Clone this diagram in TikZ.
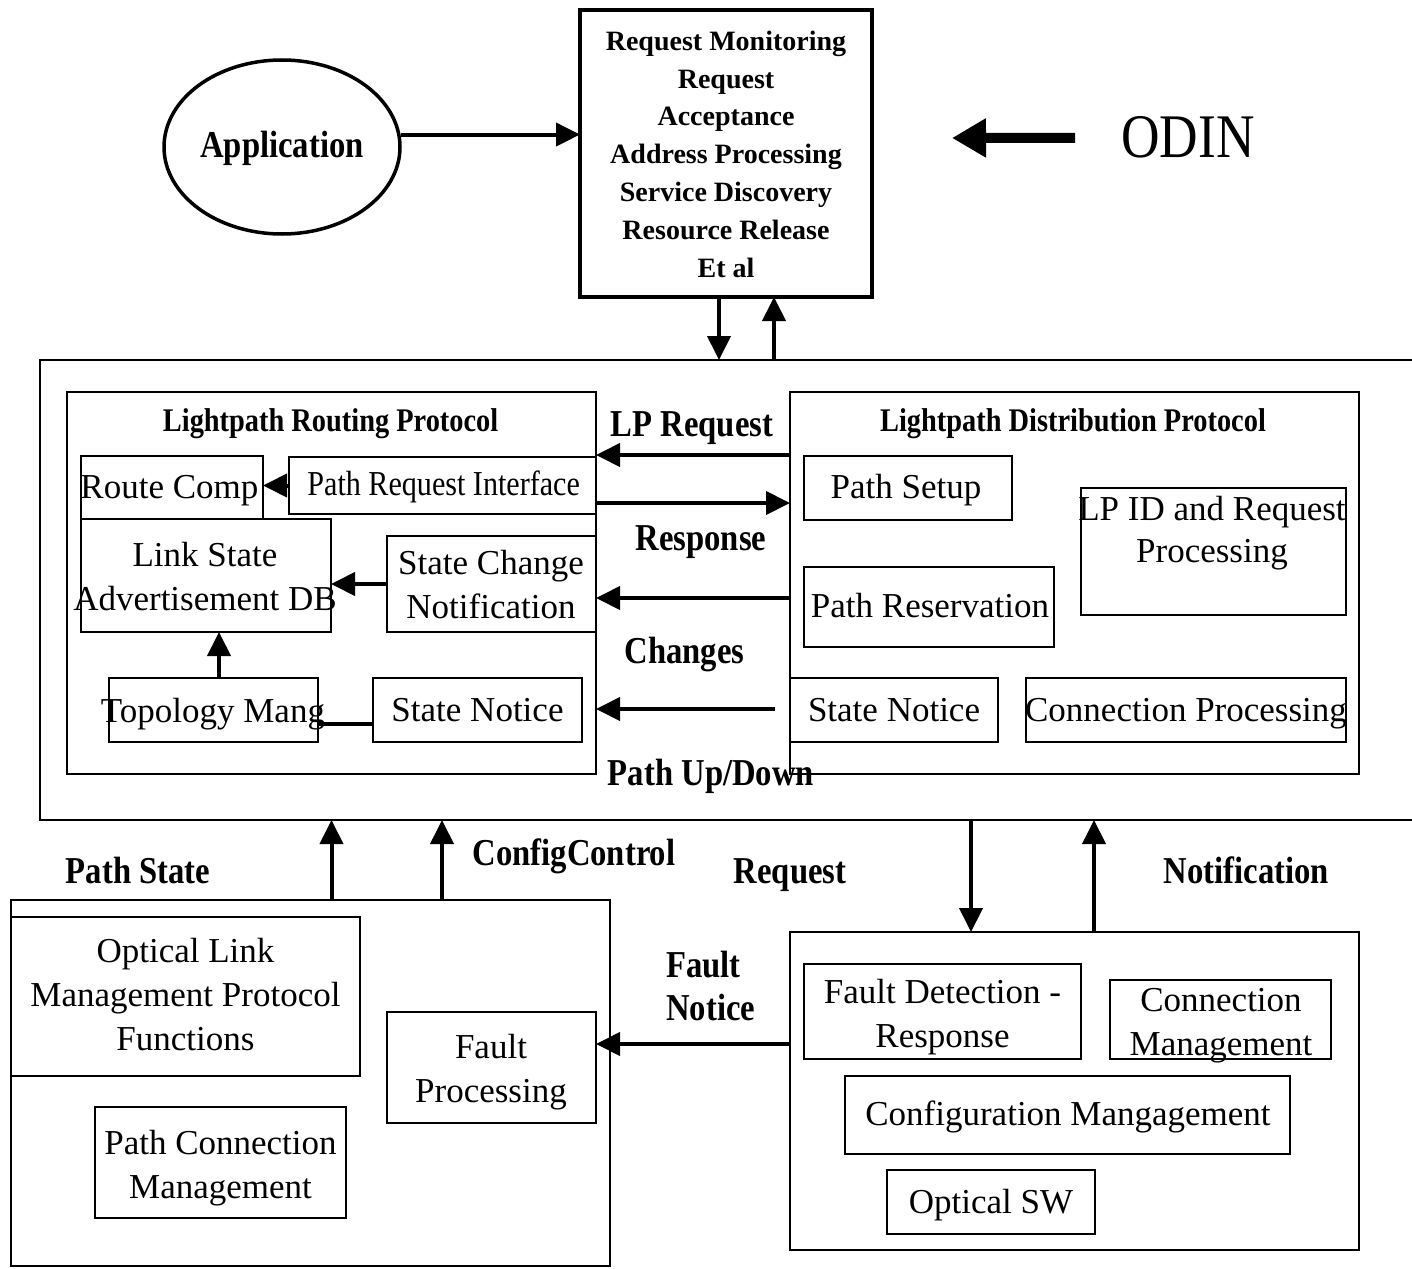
\documentclass[tikz,border=0pt]{standalone}
\usepackage{fontspec}
\setmainfont{Liberation Serif}
\newfontfamily\narrowserif{Liberation Serif}[FakeStretch=0.86]
\usetikzlibrary{arrows.meta,shapes.geometric,calc}

% rectangle node given by its two corners: [options]{name}{x1}{y1}{x2}{y2}
\newcommand\mkpanel[6][]{%
  \node[box,#1,minimum width={#5pt-#3pt},minimum height={#6pt-#4pt}]
    (#2) at ({(#3+#5)/2},{(#4+#6)/2}) {};}

\begin{document}
\begin{tikzpicture}[x=1pt,y=-1pt,
  box/.style={draw, line width=2.6pt, inner sep=0pt, outer sep=0pt},
  btxt/.style={font=\fontsize{35}{44}\selectfont, inner sep=0pt, anchor=base, align=center},
  ntxt/.style={font=\narrowserif\fontsize{35}{44}\selectfont, inner sep=0pt, anchor=base, align=center},
  lbl/.style={font=\narrowserif\bfseries\fontsize{38}{43}\selectfont, inner sep=0pt, anchor=base, align=center},
  ttl/.style={font=\narrowserif\bfseries\fontsize{33}{40}\selectfont, inner sep=0pt, anchor=base},
  arr/.style={line width=4pt, -{Triangle[length=24pt,width=23pt]}},
  bigarr/.style={line width=10pt, -{Triangle[length=34pt,width=37pt]}},
  link/.style={line width=4pt}]

\fill[white] (0,0) rectangle (1412,1268);
\useasboundingbox (0,0) rectangle (1412,1268);

% multi-line texts are placed by the baseline of their last line

% ---------- top: application and request handling ----------
\node[draw, ellipse, line width=3.5pt, minimum width=236pt, minimum height=174pt, inner sep=0pt]
  (app) at (282,147) {};
\node[lbl] (appt) at (282,158) {Application};

\mkpanel[line width=4.5pt]{rm}{580}{10}{872}{297}
\node[font=\bfseries\fontsize{28}{37.8}\selectfont, inner sep=0pt, anchor=base, align=center]
  (rmt) at (726,277) {Request Monitoring\\Request\\Acceptance\\Address Processing\\Service Discovery\\Resource Release\\Et al};

\node[font=\narrowserif\fontsize{62}{70}\selectfont, inner sep=0pt, anchor=base] (odin) at (1188,158) {ODIN};
\coordinate (odtip) at (952,138);
\draw[bigarr] ([xshift=-46pt]odin.west) -- (odtip);

\draw[arr] (app.6) -- (app.6 -| rm.west);

% ---------- middle: control plane ----------
\node[inner sep=0pt, outer sep=0pt, minimum width=1372pt, minimum height=460pt] (ctl) at (726,590) {};
\draw[line width=2.4pt] (ctl.north east) -- (ctl.north west) -- (ctl.south west) -- (ctl.south east);

\coordinate (rmd) at ($(rm.south)+(-7,0)$);
\coordinate (rmu) at ($(rm.south)+(48,0)$);
\draw[arr] (rmd) -- (rmd |- ctl.north);
\draw[arr] (rmu |- ctl.north) -- (rmu);

% routing protocol
\mkpanel{lrp}{67}{392}{596}{774}
\node[ttl] (lrpt) at (330.6,431) {Lightpath Routing Protocol};
\mkpanel{rc}{81}{456}{263}{519}
\node[btxt] (rct) at (169.4,498) {Route Comp};
\mkpanel{pri}{289}{457}{596}{514}
\node[ntxt] (prit) at (443.7,495) {Path Request Interface};
\mkpanel{lsa}{81}{519}{331}{632}
\node[btxt] (lsat) at (205,610) {Link State\\Advertisement DB};
\mkpanel{scn}{387}{536}{596}{632}
\node[btxt] (scnt) at (491,618) {State Change\\Notification};
\mkpanel{tm}{109}{678}{318}{742}
\node[btxt] (tmt) at (213,722) {Topology Mang};
\mkpanel{snl}{373}{678}{582}{742}
\node[btxt] (snlt) at (477.5,721) {State Notice};

\draw[arr] (pri.west) -- (pri.west -| rc.east);
\draw[arr] (scn.west) -- (scn.west -| lsa.east);
\coordinate (tmA) at ($(tm.north)+(5.5,0)$);
\draw[arr] (tmA) -- (tmA |- lsa.south);
\coordinate (snA) at ($(snl.west)+(0,14)$);
\draw[link] (snA) -- (snA -| tm.east);

% distribution protocol
\mkpanel{ldp}{790}{392}{1359}{774}
\node[ttl] (ldpt) at (1073,431) {Lightpath Distribution Protocol};
\mkpanel{ps}{804}{456}{1012}{520}
\node[btxt] (pst) at (906,498) {Path Setup};
\mkpanel{lpid}{1081}{488}{1346}{615}
\node[btxt, font=\fontsize{35}{42}\selectfont] (lpidt) at (1212,562) {LP ID and Request\\Processing};
\mkpanel{pr}{804}{567}{1054}{647}
\node[btxt] (prt) at (930,617) {Path Reservation};
\mkpanel{snr}{790}{678}{998}{742}
\node[btxt] (snrt) at (894,721) {State Notice};
\mkpanel{cp}{1026}{678}{1346}{742}
\node[btxt] (cpt) at (1186,721) {Connection Processing};

% messages between the two protocols
\coordinate (lpA) at ($(ldp.north west)+(0,63)$);
\coordinate (rsA) at ($(lrp.north east)+(0,111)$);
\coordinate (chA) at ($(ldp.north west)+(0,206)$);
\coordinate (pudA) at ($(ldp.north west)+(-15,317)$);
\draw[arr] (lpA) -- (lpA -| lrp.east);
\draw[arr] (rsA) -- (rsA -| ldp.west);
\draw[arr] (chA) -- (chA -| lrp.east);
\draw[arr] (pudA) -- (pudA -| lrp.east);
\node[lbl] (lpreq) at (692,436) {LP Request};
\node[lbl] (resp) at (701,550) {Response};
\node[lbl] (chg) at (684.5,663) {Changes};
\node[lbl] (pud) at (711,785) {Path Up/Down};

% ---------- bottom: link management and switching ----------
\mkpanel{lb}{11}{900}{610}{1266}
\mkpanel{olm}{11}{917}{360}{1076}
\node[btxt] (olmt) at (185.5,1050) {Optical Link\\Management Protocol\\Functions};
\mkpanel{pcm}{95}{1107}{346}{1218}
\node[btxt] (pcmt) at (220.5,1198) {Path Connection\\Management};
\mkpanel{fp}{387}{1012}{596}{1123}
\node[btxt] (fpt) at (491,1102) {Fault\\Processing};

\mkpanel{rb}{790}{932}{1359}{1250}
\mkpanel{fdr}{804}{964}{1081}{1059}
\node[btxt] (fdrt) at (942.5,1047) {Fault Detection -\\Response};
\mkpanel{cm}{1110}{980}{1331}{1059}
\node[btxt] (cmt) at (1221,1055) {Connection\\Management};
\mkpanel{cfg}{845}{1076}{1290}{1154}
\node[btxt] (cfgt) at (1068,1125) {Configuration Mangagement};
\mkpanel{osw}{887}{1170}{1095}{1234}
\node[btxt] (oswt) at (991,1213) {Optical SW};

\coordinate (psA) at ($(lb.north west)+(320.5,0)$);
\coordinate (ccA) at ($(lb.north west)+(431,0)$);
\coordinate (rqA) at ($(rb.north west)+(181,0)$);
\coordinate (ntA) at ($(rb.north west)+(304,0)$);
\draw[arr] (psA) -- (psA |- ctl.south);
\draw[arr] (ccA) -- (ccA |- ctl.south);
\draw[arr] (rqA |- ctl.south) -- (rqA);
\draw[arr] (ntA) -- (ntA |- ctl.south);
\coordinate (fnA) at ($(rb.north west)+(0,112)$);
\draw[arr] (fnA) -- (fnA -| fp.east);

\node[lbl] (pstate) at (138,883) {Path State};
\node[lbl] (cfgc) at (574,865) {ConfigControl};
\node[lbl] (req) at (790,883) {Request};
\node[lbl] (notif) at (1246.5,883) {Notification};
\node[lbl, anchor=base west, align=left] (fnl) at (666,1020) {Fault\\Notice};

\end{tikzpicture}
\end{document}
